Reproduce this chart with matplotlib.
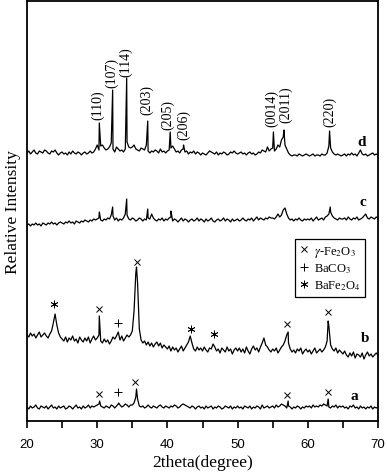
import matplotlib
matplotlib.use("Agg")
import matplotlib.pyplot as plt
from matplotlib.lines import Line2D
import numpy as np

plt.rcParams['font.family'] = 'serif'
plt.rcParams['font.serif'] = ['Liberation Serif', 'DejaVu Serif']
plt.rcParams['mathtext.fontset'] = 'stix'

# 2theta grid of the noisy background, 0.25 deg step from 20 to 70
two_theta = np.arange(20, 70.001, 0.25)

# intensities (stacked, arbitrary units)
int_a = [14, 12, 15, 13, 14, 16, 13, 12, 15, 14, 13, 15, 12, 14, 16, 13, 14, 12, 15, 13,
         14, 15, 12, 13, 15, 14, 12, 14, 16, 13, 14, 12, 15, 13, 14, 16, 13, 15, 14, 15,
         16, 17, 15, 14, 13, 15, 14, 13, 16, 15, 13, 15, 17, 16, 14, 15, 17, 16, 14, 16,
         16, 18, 24, 22, 15, 14, 15, 13, 14, 16, 14, 13, 15, 14, 13, 15, 16, 14, 13, 15,
         14, 13, 15, 14, 16, 15, 13, 14, 16, 17, 16, 15, 14, 13, 15, 14, 12, 14, 15, 13,
         14, 12, 15, 13, 14, 15, 12, 14, 13, 15, 14, 12, 13, 15, 14, 13, 15, 12, 14, 13,
         15, 13, 14, 12, 15, 14, 13, 15, 12, 14, 13, 15, 14, 12, 16, 13, 14, 15, 13, 14,
         15, 13, 16, 14, 15, 17, 16, 15, 13, 15, 14, 12, 14, 13, 15, 14, 12, 14, 13, 15,
         14, 15, 13, 16, 14, 15, 14, 16, 15, 17, 16, 15, 14, 13, 15, 14, 16, 13, 15, 14,
         15, 13, 14, 12, 15, 14, 16, 13, 14, 12, 15, 13, 14, 12, 14, 13, 15, 12, 14, 13,
         14]
int_b = [86, 84, 88, 85, 87, 83, 86, 89, 84, 86, 88, 85, 83, 87, 90, 98, 107, 96, 88, 84,
         82, 80, 84, 79, 83, 81, 85, 80, 82, 78, 84, 81, 79, 83, 80, 84, 78, 82, 85, 81,
         83, 86, 80, 78, 82, 79, 81, 77, 80, 84, 82, 85, 89, 81, 85, 80, 83, 86, 84, 86,
         90, 110, 148, 138, 92, 81, 78, 80, 76, 79, 75, 78, 74, 77, 79, 75, 78, 73, 76, 74,
         72, 75, 70, 74, 71, 73, 69, 72, 75, 70, 73, 76, 79, 85, 78, 72, 70, 74, 71, 73,
         70, 74, 71, 69, 73, 72, 77, 74, 70, 72, 68, 73, 71, 69, 74, 70, 72, 67, 71, 73,
         70, 73, 69, 72, 68, 74, 70, 67, 72, 75, 71, 73, 69, 74, 78, 83, 76, 74, 71, 69,
         72, 70, 73, 68, 71, 74, 76, 80, 86, 78, 72, 69, 71, 68, 72, 70, 73, 67, 70, 72,
         69, 71, 67, 70, 73, 68, 70, 72, 69, 71, 74, 80, 95, 76, 72, 70, 73, 68, 71, 69,
         67, 70, 66, 64, 68, 65, 69, 63, 67, 66, 64, 68, 62, 66, 69, 65, 67, 64, 66, 68,
         66]
int_c = [196, 197, 195, 197, 196, 198, 196, 197, 195, 198, 197, 196, 198, 197, 199, 197, 198, 196, 198, 199,
         198, 197, 199, 198, 200, 198, 199, 197, 200, 199, 198, 200, 199, 201, 200, 199, 201, 200, 202, 201,
         202, 203, 201, 200, 202, 201, 203, 202, 206, 205, 201, 203, 200, 202, 201, 203, 207, 206, 202, 201,
         203, 202, 200, 201, 203, 202, 200, 202, 201, 203, 202, 207, 203, 201, 200, 202, 201, 203, 200, 202,
         201, 203, 204, 200, 202, 201, 199, 201, 203, 200, 202, 201, 199, 201, 202, 200, 201, 203, 200, 202,
         201, 199, 202, 200, 201, 203, 200, 199, 201, 202, 200, 201, 203, 200, 202, 201, 199, 202, 200, 201,
         202, 200, 201, 203, 201, 200, 202, 201, 203, 200, 202, 204, 201, 203, 202, 201, 203, 202, 204, 203,
         203, 202, 204, 207, 204, 206, 211, 213, 207, 203, 201, 202, 200, 202, 201, 203, 201, 200, 202, 201,
         202, 201, 203, 200, 202, 204, 201, 202, 203, 201, 204, 205, 207, 209, 205, 203, 202, 201, 203, 202,
         202, 203, 201, 204, 202, 201, 203, 202, 204, 201, 202, 203, 205, 207, 203, 202, 204, 203, 202, 204,
         203]
int_d = [268, 270, 267, 269, 271, 268, 267, 270, 269, 268, 271, 270, 268, 267, 270, 269, 271, 268, 266, 268,
         269, 267, 268, 266, 269, 267, 270, 268, 267, 269, 268, 266, 268, 269, 267, 268, 270, 268, 269, 272,
         276, 271, 275, 276, 273, 271, 272, 274, 278, 272, 269, 274, 272, 270, 271, 269, 272, 279, 274, 273,
         274, 276, 272, 271, 270, 273, 272, 271, 276, 270, 268, 270, 269, 271, 270, 268, 272, 269, 270, 268,
         270, 271, 273, 275, 272, 269, 270, 268, 271, 272, 269, 270, 267, 269, 268, 270, 267, 269, 268, 266,
         268, 267, 266, 268, 270, 269, 268, 267, 269, 266, 268, 267, 269, 268, 266, 267, 269, 268, 270, 268,
         267, 268, 269, 267, 268, 266, 268, 269, 267, 268, 266, 267, 269, 268, 271, 270, 269, 274, 270, 272,
         273, 270, 272, 276, 274, 281, 284, 276, 272, 268, 266, 265, 266, 266, 265, 267, 266, 265, 266, 267,
         266, 265, 266, 267, 265, 266, 266, 265, 267, 266, 266, 268, 275, 273, 269, 267, 266, 267, 266, 265,
         266, 267, 265, 267, 266, 268, 266, 267, 265, 268, 271, 267, 266, 267, 265, 266, 267, 268, 266, 267,
         266]

# sharp reflections lying between grid points (position, top)
peaks_a = [30.35, 33.05, 35.6, 57.2, 62.9]
tops_a = [20, 18, 32, 20, 22]
peaks_b = [30.3, 35.6, 57.2, 62.9]
tops_b = [105, 154, 89, 100]
peaks_c = [30.3, 32.2, 34.2, 37.2, 40.5, 63.2]
tops_c = [209, 214, 222, 212, 210, 214]
peaks_d = [30.3, 32.2, 34.2, 37.2, 40.4, 42.3, 55.1, 56.6, 63.1]
tops_d = [298, 331, 343, 300, 289, 276, 289, 291, 290]

# Miller indices for pattern d
hkl_labels = ['(110)', '(107)', '(114)', '(203)', '(205)', '(206)', '(0014)', '(2011)', '(220)']
hkl_x = [30.1, 32.1, 34.1, 37.1, 40.0, 42.3, 54.9, 56.9, 63.1]
hkl_y = [302, 334, 345, 307, 292, 282, 295, 299, 295]

# phase markers
fe2o3_x = [30.2, 35.4, 57.1, 62.9, 30.3, 35.6, 57.1, 62.9]
fe2o3_y = [27, 39, 26, 29, 112, 159, 97, 109]
baco3_x = [32.9, 32.9]
baco3_y = [29, 98]
bafe2o4_x = [23.9, 43.3, 46.6]
bafe2o4_y = [117, 92, 87]

curve_names = ['a', 'b', 'c', 'd']
name_x = [66.6, 68.2, 67.9, 67.7]
name_y = [25, 83, 219, 279]


def merge(grid, vals, px, py):
    x = np.concatenate([grid, px])
    y = np.concatenate([vals, py])
    order = np.argsort(x)
    return x[order], y[order]


fig = plt.figure(figsize=(3.87, 4.77), dpi=100)
ax = fig.add_axes([27 / 387, 55 / 477, 351 / 387, 420 / 477])

for vals, px, py in [(int_a, peaks_a, tops_a), (int_b, peaks_b, tops_b),
                     (int_c, peaks_c, tops_c), (int_d, peaks_d, tops_d)]:
    x, y = merge(two_theta, np.array(vals, float), px, py)
    ax.plot(x, y, color='black', lw=0.9)

for lab, x, y in zip(hkl_labels, hkl_x, hkl_y):
    ax.text(x, y, lab, rotation=90, ha='center', va='bottom', fontsize=10)

star = (6, 2, 0)
ax.plot(fe2o3_x, fe2o3_y, ls='none', marker='x', ms=5, mew=0.7, color='black')
ax.plot(baco3_x, baco3_y, ls='none', marker='+', ms=6, mew=0.7, color='black')
ax.plot(bafe2o4_x, bafe2o4_y, ls='none', marker=star, ms=5.5, mew=0.6, color='black')

for n, x, y in zip(curve_names, name_x, name_y):
    ax.text(x, y, n, fontsize=11, fontweight='bold', ha='center', va='center')

handles = [Line2D([], [], ls='none', marker='x', ms=5, mew=0.7, color='black'),
           Line2D([], [], ls='none', marker='+', ms=6, mew=0.7, color='black'),
           Line2D([], [], ls='none', marker=star, ms=5.5, mew=0.6, color='black')]
leg = ax.legend(handles, [r'$\gamma$-Fe$_2$O$_3$', r'BaCO$_3$', r'BaFe$_2$O$_4$'],
                loc='upper left', bbox_to_anchor=(0.763, 0.433), fontsize=9,
                fancybox=False, edgecolor='black', framealpha=1,
                handlelength=0.8, handletextpad=0.4, borderpad=0.35,
                labelspacing=0.25, borderaxespad=0)
leg.get_frame().set_linewidth(0.9)

ax.set_xlim(20, 70)
ax.set_ylim(0, 420)
ax.set_xticks(range(20, 71, 10))
ax.set_xticks(range(25, 70, 10), minor=True)
ax.set_yticks([])
ax.tick_params(axis='x', which='both', direction='out', length=5, width=1.2, pad=7)
for t in ax.get_xticklabels():
    t.set_family('Liberation Sans')
    t.set_fontsize(9.5)
for s in ax.spines.values():
    s.set_linewidth(1.3)

ax.set_xlabel('2theta(degree)', fontsize=12.5, labelpad=3)
ax.set_ylabel('Relative Intensity', fontsize=12.5, labelpad=4)

fig.savefig('out.png', dpi=100)
